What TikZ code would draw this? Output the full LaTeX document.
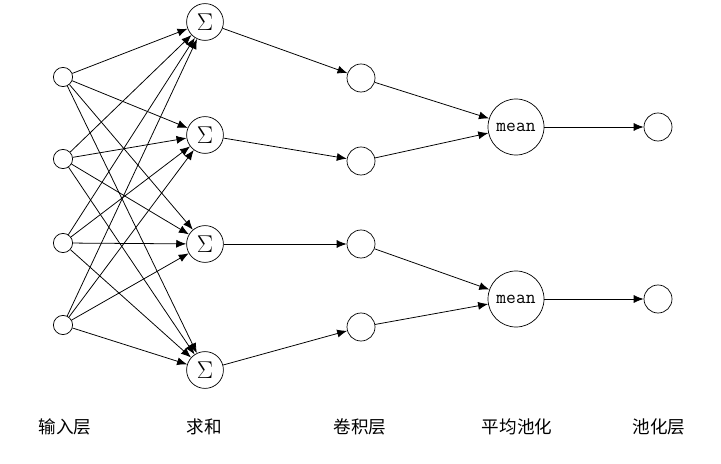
\documentclass[tikz,border=0pt]{standalone}
\usepackage{fontspec}
\newfontfamily\cjk{Noto Sans CJK SC}
\usetikzlibrary{arrows.meta,positioning}
\tikzset{
  neu/.style={circle, draw, minimum size=4.8mm, inner sep=0pt, line width=0.5pt},
  sig/.style={circle, draw, minimum size=9.2mm, inner sep=0pt, line width=0.5pt,
              font=\fontsize{17}{19}\selectfont},
  cnv/.style={circle, draw, minimum size=7mm, inner sep=0pt, line width=0.5pt},
  mn/.style={circle, draw, minimum size=14mm, inner sep=0pt, line width=0.5pt,
             font=\ttfamily\fontsize{13.5}{15}\selectfont},
  lbl/.style={font=\cjk\fontsize{12.5}{14}\selectfont},
  ar/.style={-{Latex[length=2.5mm,width=2mm]}, line width=0.55pt},
}

\begin{document}
\begin{tikzpicture}[x=0.025cm, y=-0.025cm]
\useasboundingbox (0,0) rectangle (721,464);
% input layer
\foreach \i/\yy in {1/77,2/159,3/243,4/325}
  \node[neu] (in\i) at (63,\yy) {};
% sums
\foreach \i/\yy in {1/22,2/135,3/244,4/370}
  \node[sig] (s\i) at (205,\yy) {$\Sigma$};
% conv layer
\foreach \i/\yy in {1/78,2/161,3/244,4/327}
  \node[cnv] (c\i) at (361,\yy) {};
% mean pooling and output
\node[mn] (m1) at (516,127) {mean};
\node[mn] (m2) at (516,299) {mean};
\node[cnv] (o1) at (658,127) {};
\node[cnv] (o2) at (658,299) {};

% connections
\foreach \i in {1,...,4}
  \foreach \j in {1,...,4}
    \draw[ar] (in\i) -- (s\j);
\foreach \i in {1,...,4}
  \draw[ar] (s\i) -- (c\i);
\draw[ar] (c1) -- (m1);
\draw[ar] (c2) -- (m1);
\draw[ar] (c3) -- (m2);
\draw[ar] (c4) -- (m2);
\draw[ar] (m1) -- (o1);
\draw[ar] (m2) -- (o2);

% layer names
\node[lbl] (tin) at (65,427) {输入层};
\node[lbl] (tsum) at (204,427) {求和};
\node[lbl] (tcnv) at (360,427) {卷积层};
\node[lbl] (tmn) at (517,427) {平均池化};
\node[lbl] (tout) at (659,427) {池化层};
\end{tikzpicture}
\end{document}
